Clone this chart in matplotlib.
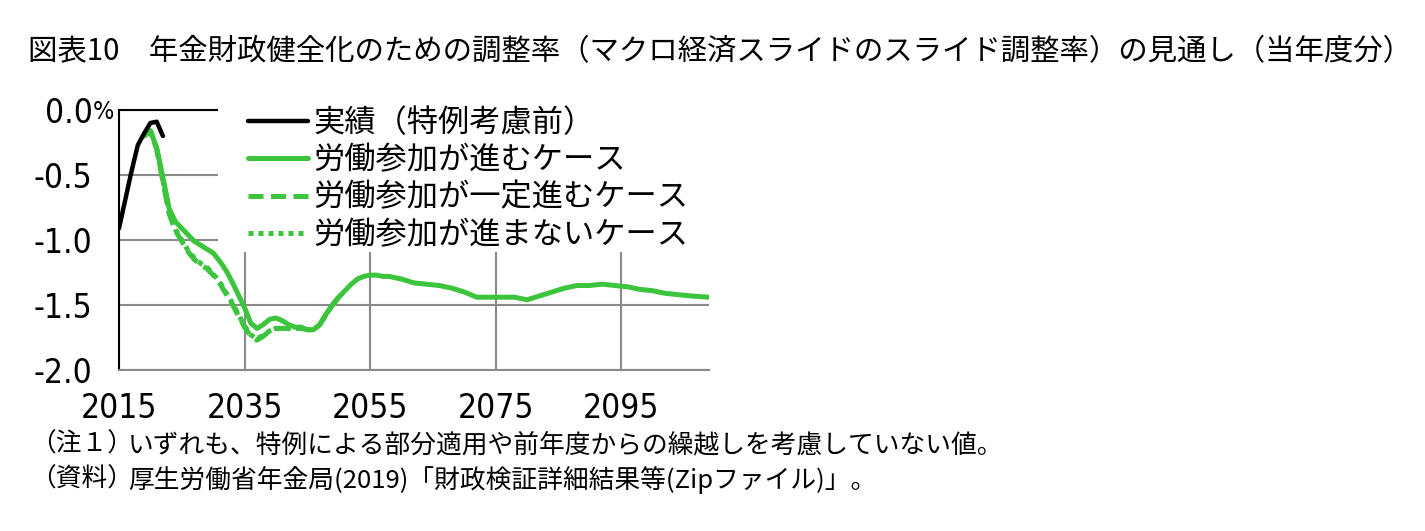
import matplotlib
matplotlib.use("Agg")
import matplotlib.pyplot as plt
from matplotlib.patches import Rectangle
from matplotlib import font_manager

plt.rcParams['font.family'] = ['Noto Sans CJK JP', 'DejaVu Sans']

# 実績（特例考慮前）
years_actual = [2015, 2016, 2017, 2018, 2019, 2020, 2021, 2022]
rate_actual = [-0.91, -0.69, -0.47, -0.27, -0.18, -0.10, -0.09, -0.20]

# 労働参加が進むケース
years_high = [2019, 2020, 2021, 2022, 2023, 2024, 2025, 2026, 2027, 2028, 2029,
              2030, 2031, 2032, 2033, 2034, 2035, 2036, 2037, 2038, 2039, 2040,
              2041, 2042, 2043, 2044, 2045, 2046, 2047, 2048, 2049, 2050, 2051,
              2052, 2053, 2054, 2055, 2056, 2057, 2058, 2059, 2060, 2062, 2064,
              2066, 2068, 2070, 2072, 2074, 2076, 2078, 2080, 2082, 2084, 2086,
              2088, 2090, 2092, 2094, 2096, 2098, 2100, 2102, 2104, 2106, 2109]
rate_high = [-0.20, -0.16, -0.29, -0.52, -0.76, -0.86, -0.91, -0.96, -1.01, -1.04, -1.07,
             -1.10, -1.16, -1.23, -1.32, -1.42, -1.52, -1.64, -1.68, -1.65, -1.61, -1.60,
             -1.62, -1.65, -1.67, -1.67, -1.69, -1.69, -1.65, -1.57, -1.50, -1.44, -1.39,
             -1.34, -1.30, -1.28, -1.27, -1.27, -1.28, -1.28, -1.29, -1.30, -1.33, -1.34,
             -1.35, -1.37, -1.40, -1.44, -1.44, -1.44, -1.44, -1.46, -1.43, -1.40, -1.37,
             -1.35, -1.35, -1.34, -1.35, -1.36, -1.38, -1.39, -1.41, -1.42, -1.43, -1.44]

# 労働参加が一定進むケース / 進まないケース (後半は進むケースと重なる)
years_mid = [2019, 2020, 2021, 2022, 2023, 2024, 2025, 2026, 2027, 2028, 2029,
             2030, 2031, 2032, 2033, 2034, 2035, 2036, 2037, 2038, 2039, 2040,
             2041, 2042, 2043, 2044, 2045, 2046, 2047, 2048, 2049, 2050]
rate_mid = [-0.20, -0.16, -0.30, -0.55, -0.80, -0.93, -1.01, -1.09, -1.15, -1.19, -1.22,
            -1.27, -1.33, -1.41, -1.49, -1.58, -1.67, -1.74, -1.77, -1.74, -1.70, -1.68,
            -1.68, -1.68, -1.68, -1.68, -1.69, -1.69, -1.65, -1.57, -1.50, -1.44]
rate_low = [-0.20, -0.16, -0.30, -0.54, -0.79, -0.92, -1.00, -1.08, -1.14, -1.18, -1.21,
            -1.26, -1.32, -1.40, -1.48, -1.57, -1.66, -1.73, -1.76, -1.73, -1.70, -1.68,
            -1.68, -1.68, -1.68, -1.68, -1.69, -1.69, -1.65, -1.57, -1.50, -1.44]

x_ticks = [2015, 2035, 2055, 2075, 2095]
y_ticks = [0.0, -0.5, -1.0, -1.5, -2.0]
y_labels = ["0.0", "-0.5", "-1.0", "-1.5", "-2.0"]

labels = ["実績（特例考慮前）", "労働参加が進むケース",
          "労働参加が一定進むケース", "労働参加が進まないケース"]

green = "#3cc43c"
grid_gray = "#8a8a8a"

# narrow digits for the axis labels
tick_fp = font_manager.FontProperties(family='DejaVu Sans', stretch='condensed', size=24)

W, H = 1425, 531
fig = plt.figure(figsize=(W / 100, H / 100), dpi=100)
ax = fig.add_axes([119 / W, 1 - 370 / H, 590 / W, 260 / H])

l_low, = ax.plot(years_mid, rate_low, color=green, lw=3.6, dashes=(1, 1), zorder=4)
l_mid, = ax.plot(years_mid, rate_mid, color=green, lw=3.6, dashes=(3, 1.5), zorder=4)
l_high, = ax.plot(years_high, rate_high, color=green, lw=3.6, zorder=5,
                  solid_capstyle='round', solid_joinstyle='round')
l_act, = ax.plot(years_actual, rate_actual, color='black', lw=3.2, zorder=6,
                 solid_capstyle='round', solid_joinstyle='round')

ax.set_xlim(2015, 2109)
ax.set_ylim(-2.0, 0.0)
ax.set_xticks(x_ticks)
ax.set_yticks(y_ticks)
ax.set_yticklabels(y_labels)
ax.tick_params(length=0)
ax.tick_params(axis='x', pad=16)
ax.tick_params(axis='y', pad=19)
for lab in ax.get_xticklabels() + ax.get_yticklabels():
    lab.set_fontproperties(tick_fp)

ax.grid(True, color=grid_gray, lw=1.5)
ax.set_axisbelow(True)
ax.spines['right'].set_visible(False)
ax.spines['bottom'].set_color(grid_gray)
ax.spines['bottom'].set_linewidth(1.5)
ax.spines['left'].set_linewidth(1.5)
ax.spines['top'].set_linewidth(1.5)

# "%" after the top label
fig.text(93 / W, 1 - 112 / H, "%", fontproperties=tick_fp, fontsize=18, va='center', ha='left')

# white block behind the legend (hides grid and top line)
ax.add_patch(Rectangle((0.168, 0.454), 0.85, 0.58, transform=ax.transAxes,
                       facecolor='white', edgecolor='none', zorder=3, clip_on=False))

leg = ax.legend([l_act, l_high, l_mid, l_low], labels, loc='upper left',
                bbox_to_anchor=(248 / W, 1 - 107 / H), bbox_transform=fig.transFigure,
                frameon=False, fontsize=22.5, handlelength=1.93, handletextpad=0.15,
                labelspacing=0.17, borderpad=0, borderaxespad=0)
leg.set_zorder(7)

fig.text(28 / W, 1 - 52 / H,
         "図表10　年金財政健全化のための調整率（マクロ経済スライドのスライド調整率）の見通し（当年度分）",
         fontsize=21.2, va='center', ha='left')

fig.text(30 / W, 1 - 445 / H, "（注１）", fontsize=18.5, va='center', ha='left')
fig.text(128 / W, 1 - 445 / H, "いずれも、特例による部分適用や前年度からの繰越しを考慮していない値。",
         fontsize=18.5, va='center', ha='left')
fig.text(30 / W, 1 - 480 / H, "（資料）", fontsize=18.5, va='center', ha='left')
fig.text(128 / W, 1 - 480 / H, "厚生労働省年金局(2019)「財政検証詳細結果等(Zipファイル)」。",
         fontsize=18.5, va='center', ha='left')

fig.savefig("out.png", dpi=100)
